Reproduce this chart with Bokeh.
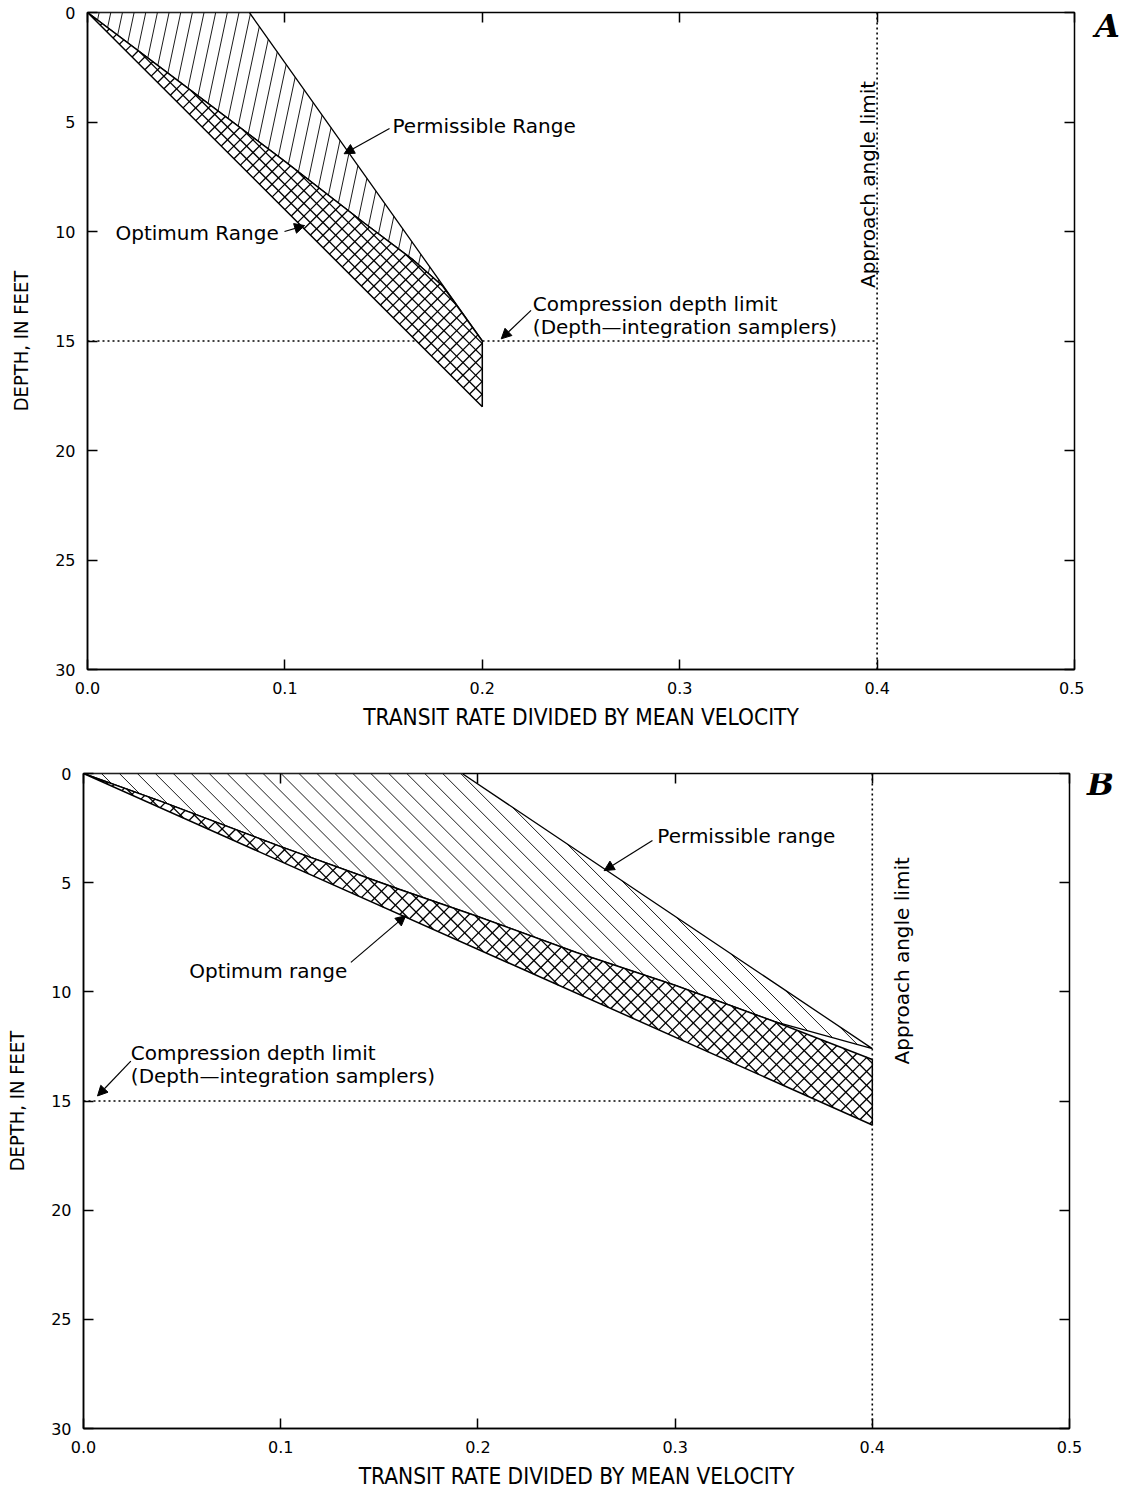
from math import pi
import numpy as np
from bokeh.plotting import figure
from bokeh.layouts import column, row
from bokeh.models import (Range1d, LinearAxis, FixedTicker, Label, Arrow, NormalHead)
from bokeh.core.properties import value
from bokeh.embed import file_html
from bokeh.resources import INLINE

# ---------------- data ----------------
x_ticks = [0.0, 0.1, 0.2, 0.3, 0.4, 0.5]
x_tick_labels = ["0.0", "0.1", "0.2", "0.3", "0.4", "0.5"]
y_ticks = [0, 5, 10, 15, 20, 25, 30]
y_tick_labels = ["0", "5", "10", "15", "20", "25", "30"]

compression_depth = 15.0
approach_limit = 0.4

# Panel A
a_perm_upper_x = [0.0, 0.082, 0.2]
a_perm_upper_d = [0.0, 0.0, 15.0]
a_opt_upper_x = [0.0, 0.05, 0.1, 0.14, 0.165, 0.18, 0.2]
a_opt_upper_d = [0.0, 3.4, 6.8, 9.6, 11.3, 12.5, 15.0]
a_opt_lower_x = [0.0, 0.2]
a_opt_lower_d = [0.0, 18.0]

# Panel B
b_perm_upper_x = [0.0, 0.192, 0.4]
b_perm_upper_d = [0.0, 0.0, 12.6]
b_opt_upper_x = [0.0, 0.04, 0.1, 0.16, 0.2, 0.25, 0.3, 0.35, 0.4]
b_opt_upper_d = [0.0, 1.3, 3.35, 5.3, 6.55, 8.2, 9.7, 11.35, 13.1]
b_opt_lower_x = [0.0, 0.4]
b_opt_lower_d = [0.0, 16.1]

panel_letters = ["A", "B"]

TXT_FONT = "DejaVu Sans"
AX_FONT = "Liberation Sans Narrow, DejaVu Sans Condensed, Liberation Sans, sans-serif"


def hatch_segments(xs, ds, angle_deg, spacing, sx, sy):
    """Clip parallel hatch lines (screen angle, px spacing) to a polygon given in data units."""
    X = np.asarray(xs, float) * sx
    Y = np.asarray(ds, float) * sy
    a = np.radians(angle_deg)
    u = np.array([np.cos(a), -np.sin(a)])
    n = np.array([np.sin(a), np.cos(a)])
    proj = X * n[0] + Y * n[1]
    out_x, out_y = [], []
    cs = np.arange(np.ceil(proj.min() / spacing) * spacing, proj.max(), spacing)
    m = len(X)
    for c in cs:
        pts = []
        for i in range(m):
            j = (i + 1) % m
            p0, p1 = proj[i], proj[j]
            if (p0 - c) * (p1 - c) < 0:
                t = (c - p0) / (p1 - p0)
                qx = X[i] + t * (X[j] - X[i])
                qy = Y[i] + t * (Y[j] - Y[i])
                pts.append((qx * u[0] + qy * u[1], qx, qy))
        pts.sort()
        for k in range(0, len(pts) - 1, 2):
            out_x.append([pts[k][1] / sx, pts[k + 1][1] / sx])
            out_y.append([pts[k][2] / sy, pts[k + 1][2] / sy])
    return out_x, out_y


def make_panel(perm_x, perm_d, opt_ux, opt_ud, opt_lx, opt_ld,
               perm_angle, perm_space, cross_space,
               left, right, top, bottom, fw, fh):
    p = figure(frame_width=fw, frame_height=fh,
               x_range=Range1d(0, 0.5), y_range=Range1d(30, 0),
               x_axis_type=None, y_axis_type=None,
               output_backend="svg", toolbar_location=None,
               min_border_left=left, min_border_right=right,
               min_border_top=top, min_border_bottom=bottom)
    p.xgrid.visible = False
    p.ygrid.visible = False
    p.outline_line_color = "black"
    p.outline_line_width = 1.5
    p.background_fill_color = "white"
    p.border_fill_color = "white"

    xo = dict(zip(x_ticks, x_tick_labels))
    yo = dict(zip(y_ticks, y_tick_labels))

    common = dict(major_tick_in=10, major_tick_out=0, minor_tick_line_color=None,
                  major_tick_line_width=1.5, major_tick_line_color="black")
    bx = LinearAxis(ticker=FixedTicker(ticks=x_ticks), major_label_overrides=xo,
                    axis_label="TRANSIT RATE DIVIDED BY MEAN VELOCITY",
                    major_label_standoff=12, axis_label_standoff=7,
                    major_label_text_font=TXT_FONT, major_label_text_font_size="16px",
                    major_label_text_color="black",
                    axis_label_text_font=AX_FONT, axis_label_text_font_size="22.5px",
                    axis_label_text_font_style="normal", axis_label_text_color="black",
                    axis_line_width=1.5, **common)
    ly = LinearAxis(ticker=FixedTicker(ticks=y_ticks), major_label_overrides=yo,
                    axis_label="DEPTH, IN FEET",
                    major_label_standoff=12, axis_label_standoff=19,
                    major_label_text_font=TXT_FONT, major_label_text_font_size="16px",
                    major_label_text_color="black",
                    axis_label_text_font=AX_FONT, axis_label_text_font_size="20px",
                    axis_label_text_font_style="normal", axis_label_text_color="black",
                    axis_line_width=1.5, **common)
    tx = LinearAxis(ticker=FixedTicker(ticks=x_ticks), major_label_text_font_size="1px",
                    major_label_text_color=None, major_label_standoff=0,
                    axis_line_color=None, **common)
    ry = LinearAxis(ticker=FixedTicker(ticks=y_ticks), major_label_text_font_size="1px",
                    major_label_text_color=None, major_label_standoff=0,
                    axis_line_color=None, **common)
    p.add_layout(bx, "below")
    p.add_layout(ly, "left")
    p.add_layout(tx, "above")
    p.add_layout(ry, "right")

    sx = fw / 0.5
    sy = fh / 30.0

    # dotted limit lines
    p.line([0.0, approach_limit], [compression_depth, compression_depth],
           line_color="black", line_width=1.6, line_dash="2 3")
    p.line([approach_limit, approach_limit], [0, 30],
           line_color="black", line_width=1.6, line_dash="2 3")

    # permissible range polygon (single hatch)
    px = perm_x + opt_ux[::-1][1:]
    pd = perm_d + opt_ud[::-1][1:]
    p.patch(px, pd, fill_color="white", line_color=None)
    hx, hy = hatch_segments(px, pd, perm_angle, perm_space, sx, sy)
    p.multi_line(hx, hy, line_color="black", line_width=0.9)
    p.patch(px, pd, fill_color=None, line_color="black", line_width=1.3)

    # optimum range polygon (cross hatch)
    ox = opt_ux + opt_lx[::-1]
    od = opt_ud + opt_ld[::-1]
    p.patch(ox, od, fill_color="white", line_color=None)
    for ang in (45, 135):
        cx, cy = hatch_segments(ox, od, ang, cross_space, sx, sy)
        p.multi_line(cx, cy, line_color="black", line_width=1.3)
    p.patch(ox, od, fill_color=None, line_color="black", line_width=1.5)
    return p


def lab(p, x, y, text, size="20px", angle=0, align="left", font=TXT_FONT, style="normal"):
    p.add_layout(Label(x=x, y=y, text=text, angle=angle, text_font=font,
                       text_font_size=size, text_align=align, text_baseline="middle",
                       text_font_style=style, text_color="black"))


def arrow(p, x0, y0, x1, y1):
    p.add_layout(Arrow(x_start=x0, y_start=y0, x_end=x1, y_end=y1, line_width=1.2,
                       line_color="black",
                       end=NormalHead(size=10, fill_color="black", line_color="black")))


def letter_fig(letter, w, h, cx, cy):
    f = figure(frame_width=w, frame_height=h, x_range=Range1d(0, w), y_range=Range1d(h, 0),
               x_axis_type=None, y_axis_type=None, output_backend="svg",
               toolbar_location=None, min_border_left=0, min_border_right=0,
               min_border_top=0, min_border_bottom=0)
    f.xgrid.visible = False
    f.ygrid.visible = False
    f.outline_line_color = None
    f.background_fill_color = "white"
    f.border_fill_color = "white"
    f.text(x=[cx], y=[cy], text=[letter], text_font=value("DejaVu Serif"),
           text_font_size="32px", text_font_style="bold italic",
           text_align="center", text_baseline="middle", text_color="black")
    return f


# ---------------- panel A ----------------
pA = make_panel(a_perm_upper_x, a_perm_upper_d, a_opt_upper_x, a_opt_upper_d,
                a_opt_lower_x, a_opt_lower_d, 78, 11.4, 9.0,
                87, 10, 12, 79, 987, 657)
lab(pA, 0.1545, 5.16, "Permissible Range")
arrow(pA, 0.153, 5.3, 0.130, 6.45)
lab(pA, 0.0142, 10.05, "Optimum Range")
arrow(pA, 0.0998, 10.0, 0.110, 9.73)
lab(pA, 0.2256, 13.29, "Compression depth limit")
lab(pA, 0.2256, 14.37, "(Depth\u2014integration samplers)")
arrow(pA, 0.2247, 13.6, 0.2096, 14.9)
lab(pA, 0.3956, 7.85, "Approach angle limit", angle=pi / 2, align="center")

# ---------------- panel B ----------------
pB = make_panel(b_perm_upper_x, b_perm_upper_d, b_opt_upper_x, b_opt_upper_d,
                b_opt_lower_x, b_opt_lower_d, 135, 12.7, 9.8,
                83, 14, 25, 60, 986, 655)
lab(pB, 0.291, 2.84, "Permissible range")
arrow(pB, 0.2885, 3.07, 0.264, 4.45)
lab(pB, 0.0536, 9.04, "Optimum range")
arrow(pB, 0.1356, 8.65, 0.1634, 6.51)
lab(pB, 0.024, 12.78, "Compression depth limit")
lab(pB, 0.024, 13.85, "(Depth\u2014integration samplers)")
arrow(pB, 0.024, 13.17, 0.0071, 14.77)
lab(pB, 0.4153, 8.58, "Approach angle limit", angle=pi / 2, align="center")

letA = letter_fig(panel_letters[0], 42, 120, 23, 13)
letB = letter_fig(panel_letters[1], 42, 120, 17, 10)

layout = column(row(pA, letA), row(pB, letB))
open("out.html", "w").write(file_html(layout, INLINE))
